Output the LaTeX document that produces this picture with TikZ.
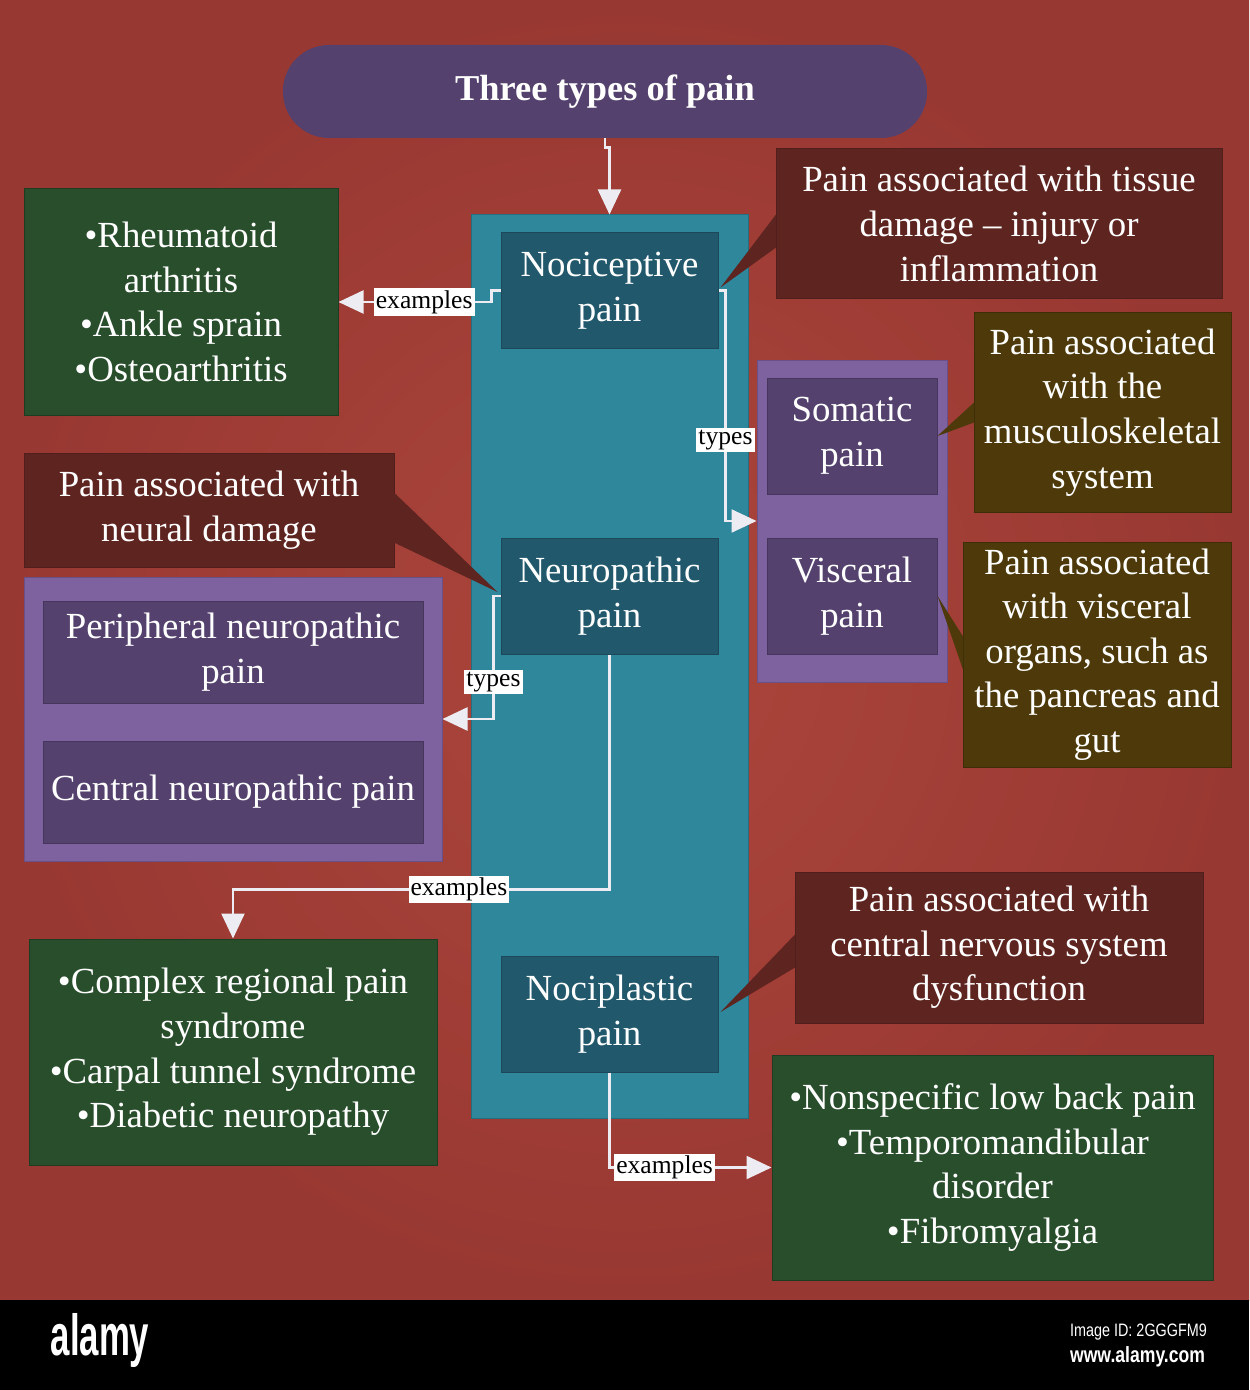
\documentclass[tikz,border=0pt]{standalone}
\usepackage{fontspec}
\setmainfont{Liberation Serif}
\setsansfont{Liberation Sans}
\usetikzlibrary{arrows.meta,calc}
\definecolor{bgin}{RGB}{172,70,60}
\definecolor{bgout}{RGB}{152,56,50}
\definecolor{ttl}{RGB}{84,65,110}
\definecolor{tealA}{RGB}{46,135,155}
\definecolor{tealAd}{RGB}{36,110,128}
\definecolor{tealB}{RGB}{33,88,108}
\definecolor{tealBd}{RGB}{28,72,90}
\definecolor{grn}{RGB}{40,78,44}
\definecolor{grnd}{RGB}{30,60,34}
\definecolor{dred}{RGB}{94,36,32}
\definecolor{dredd}{RGB}{80,30,28}
\definecolor{olv}{RGB}{77,57,10}
\definecolor{olvd}{RGB}{62,46,8}
\definecolor{purA}{RGB}{126,98,160}
\definecolor{purAd}{RGB}{105,80,135}
\definecolor{purB}{RGB}{84,65,110}
\definecolor{purBd}{RGB}{70,54,92}
\definecolor{arrw}{RGB}{236,236,242}
\tikzset{
  bx/.style={inner sep=0pt, text=white, align=center, line width=0.5pt,
    font=\fontsize{18.4}{22.3}\selectfont},
  tealouter/.style={bx, fill=tealA, draw=tealAd},
  tealinner/.style={bx, fill=tealB, draw=tealBd},
  greenbox/.style={bx, fill=grn, draw=grnd},
  redbox/.style={bx, fill=dred, draw=dredd},
  olivebox/.style={bx, fill=olv, draw=olvd},
  purouter/.style={bx, fill=purA, draw=purAd},
  purinner/.style={bx, fill=purB, draw=purBd},
  conn/.style={draw=arrw, line width=1.2pt, -{Triangle[length=12.5pt,width=11.5pt,fill=arrw]}},
  lbl/.style={fill=white, text=black, inner sep=1pt, font=\fontsize{12.8}{14}\selectfont},
}
% #1 style, #2 name, #3 x1, #4 y1, #5 x2, #6 y2 (pixel units)
\newcommand\pxbox[6]{\node[#1, minimum width={(#5-#3)*0.5pt}, minimum height={(#6-#4)*0.5pt}] (#2) at ({(#3+#5)/2},{(#4+#6)/2})}
\begin{document}
\begin{tikzpicture}[x=0.5pt,y=-0.5pt]
\useasboundingbox (0,0) rectangle (1249,1390);
% background
\shade[inner color=bgin, outer color=bgout] (0,0) rectangle (1249,1300);
\fill[black] (0,1300) rectangle (1249,1390);
\node[text=white, font=\sffamily\bfseries\fontsize{29}{29}\selectfont] (logo) at (100,1340) {\scalebox{0.6}[1]{alamy}};
\node[text=white, font=\sffamily\fontsize{9}{10}\selectfont, anchor=west] (imgid) at (1063,1332) {\scalebox{0.8}[1]{Image ID: 2GGGFM9}};
\node[text=white, font=\sffamily\bfseries\fontsize{11}{12}\selectfont, anchor=west] (www) at (1063,1357) {\scalebox{0.8}[1]{www.alamy.com}};

% title
\pxbox{bx, fill=ttl, rounded corners=23pt, font=\bfseries\fontsize{18.2}{22}\selectfont}{title}{283}{45}{927}{138} {Three types of pain};

% central column
\pxbox{tealouter}{col}{471}{215}{748}{1118} {};
\pxbox{tealinner}{noci}{501}{233}{718}{348} {Nociceptive\\pain};
\pxbox{tealinner}{neuro}{501}{538}{718}{654} {Neuropathic\\pain};
\pxbox{tealinner}{nocip}{501}{956}{718}{1072} {Nociplastic\\pain};

% right container
\pxbox{purouter}{rcont}{757}{360}{947}{682} {};
\pxbox{purinner}{soma}{767}{378}{937}{494} {Somatic\\pain};
\pxbox{purinner}{visc}{767}{538}{937}{654} {Visceral\\pain};

% left container
\pxbox{purouter}{lcont}{24}{577}{442}{861} {};
\pxbox{purinner}{peri}{43}{601}{423}{703} {Peripheral neuropathic\\pain};
\pxbox{purinner}{cent}{43}{741}{423}{843} {Central neuropathic pain};

% example boxes
\pxbox{greenbox}{ex1}{24}{189}{338}{415} {•Rheumatoid\\arthritis\\•Ankle sprain\\•Osteoarthritis};
\pxbox{greenbox}{ex2}{29}{939}{437}{1165} {•Complex regional pain\\syndrome\\•Carpal tunnel syndrome\\•Diabetic neuropathy};
\pxbox{greenbox}{ex3}{772}{1055}{1213}{1280} {•Nonspecific low back pain\\•Temporomandibular\\disorder\\•Fibromyalgia};

% callouts
\pxbox{redbox}{c1}{776}{149}{1222}{299} {Pain associated with tissue\\damage -- injury or\\inflammation};
\pxbox{olivebox}{c2}{974}{313}{1231}{512} {Pain associated\\with the\\musculoskeletal\\system};
\pxbox{olivebox}{c3}{963}{542}{1231}{767} {Pain associated\\with visceral\\organs, such as\\the pancreas and\\gut};
\pxbox{redbox}{c4}{24}{453}{394}{567} {Pain associated with\\neural damage};
\pxbox{redbox}{c5}{795}{872}{1203}{1023} {Pain associated with\\central nervous system\\dysfunction};

% callout pointers
\fill[dred] ($(c1.north west)+(0.5,66)$) -- ([shift={(2,-3)}]noci.east) -- ($(c1.north west)+(0.5,99)$) -- cycle;
\fill[olv] ($(c2.north west)+(0.5,90)$) -- (soma.east) -- ($(c2.north west)+(0.5,110)$) -- cycle;
\fill[olv] ($(c3.north west)+(0.5,95)$) -- (visc.east) -- ($(c3.north west)+(0.5,128)$) -- cycle;
\fill[dred] ($(c4.north east)+(-0.5,40)$) -- ([shift={(-3,-4)}]neuro.west) -- ($(c4.north east)+(-0.5,90)$) -- cycle;
\fill[dred] ($(c5.north west)+(0.5,63)$) -- ([shift={(2,-2)}]nocip.east) -- ($(c5.north west)+(0.5,96)$) -- cycle;

% connectors
\draw[conn] (title.south) -- ++(0,9) -| (col.north);
\draw[conn] (noci.west) -- ++(-9,0) |- (ex1.east) node[lbl, pos=0.72] {examples};
\draw[conn] (noci.east) -- ++(7,0) |- (rcont.west) node[lbl, pos=0.325] {types};
\draw[conn] (neuro.west) -- ++(-7,0) |- (lcont.east) node[lbl, pos=0.35] {types};
\draw[conn] (neuro.south) -- ++(0,235) -| (ex2.north) node[lbl, pos=0.2] {examples};
\draw[conn] (nocip.south) |- (ex3.west) node[lbl, pos=0.67] {examples};
\end{tikzpicture}
\end{document}
